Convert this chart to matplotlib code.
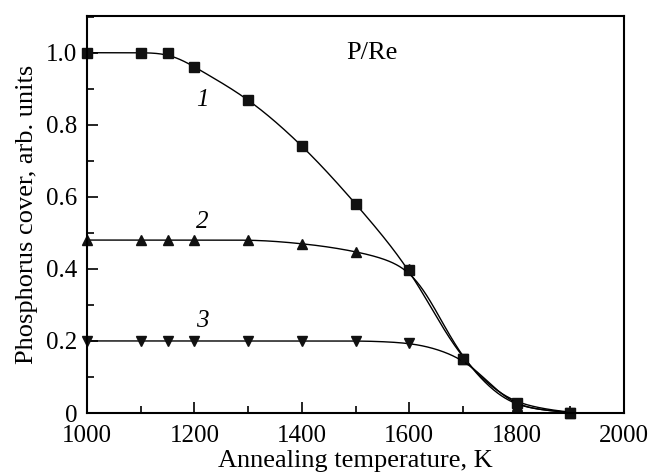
import numpy as np
import matplotlib
matplotlib.use("Agg")
import matplotlib.pyplot as plt
from matplotlib.ticker import MultipleLocator, FixedFormatter, FixedLocator

plt.rcParams['font.family'] = ['Liberation Serif', 'DejaVu Serif']

# annealing temperatures (K) and phosphorus cover for each curve
temp = [1000, 1100, 1150, 1200, 1300, 1400, 1500, 1600, 1700, 1800, 1900]
cover1 = [1.0, 1.0, 1.0, 0.96, 0.87, 0.742, 0.581, 0.397, 0.15, 0.028, 0.0]
cover2 = [0.48, 0.48, 0.48, 0.48, 0.48, 0.47, 0.448, 0.40, 0.15, 0.02, 0.0]
cover3 = [0.2, 0.2, 0.2, 0.2, 0.2, 0.2, 0.2, 0.194, 0.15, 0.02, 0.0]


def pchip(x, y, xn):
    # monotone cubic through the points
    x = np.asarray(x, float); y = np.asarray(y, float)
    h = np.diff(x); d = np.diff(y) / h
    m = np.zeros_like(y)
    for k in range(1, len(x) - 1):
        if d[k - 1] * d[k] > 0:
            w1 = 2 * h[k] + h[k - 1]; w2 = h[k] + 2 * h[k - 1]
            m[k] = (w1 + w2) / (w1 / d[k - 1] + w2 / d[k])
    m[0] = d[0]; m[-1] = d[-1]
    idx = np.clip(np.searchsorted(x, xn) - 1, 0, len(x) - 2)
    t = (xn - x[idx]) / h[idx]
    h00 = 2*t**3 - 3*t**2 + 1; h10 = t**3 - 2*t**2 + t
    h01 = -2*t**3 + 3*t**2; h11 = t**3 - t**2
    return h00*y[idx] + h10*h[idx]*m[idx] + h01*y[idx+1] + h11*h[idx]*m[idx+1]


def guide(x, y, sigma=28.0):
    # smoothed guide line for the eye (pchip + gaussian blur)
    xs = np.linspace(x[0], x[-1], 901)
    ys = pchip(x, y, xs)
    dx = xs[1] - xs[0]
    n = int(4 * sigma / dx)
    k = np.exp(-0.5 * (np.arange(-n, n + 1) * dx / sigma) ** 2)
    k /= k.sum()
    pad = np.concatenate([np.full(n, ys[0]), ys, np.full(n, ys[-1])])
    return xs, np.convolve(pad, k, mode='valid')


fig = plt.figure(figsize=(6.54, 4.75), dpi=100)
ax = fig.add_axes([87/654, 1 - 413/475, 537/654, (413 - 15.6)/475])

for ys, mk in [(cover1, 's'), (cover2, '^'), (cover3, 'v')]:
    gx, gy = guide(temp, ys)
    ax.plot(gx, gy, color='black', lw=1.0)
    ax.plot(temp, ys, linestyle='none', marker=mk, color='#111111', ms=6.5, clip_on=False)

ax.set_xlim(1000, 2000)
ax.set_ylim(0, 1.103)

ax.xaxis.set_major_locator(MultipleLocator(200))
ax.xaxis.set_minor_locator(MultipleLocator(100))
ax.yaxis.set_major_locator(FixedLocator([0, 0.2, 0.4, 0.6, 0.8, 1.0]))
ax.yaxis.set_major_formatter(FixedFormatter(['0', '0.2', '0.4', '0.6', '0.8', '1.0']))
ax.yaxis.set_minor_locator(MultipleLocator(0.1))
ax.tick_params(which='both', direction='in', top=False, right=False, labelsize=18, width=1.2)
ax.tick_params(which='major', length=8)
ax.tick_params(which='minor', length=5)
ax.tick_params(axis='x', pad=9)
ax.tick_params(axis='y', pad=7)
for s in ax.spines.values():
    s.set_linewidth(1.5)

ax.set_xlabel('Annealing temperature, K', fontsize=19, labelpad=2)
ax.set_ylabel('Phosphorus cover, arb. units', fontsize=19, labelpad=6)

ax.text(1530, 1.0, 'P/Re', fontsize=19, ha='center', va='center')
ax.text(1215, 0.87, '1', fontsize=18, style='italic', ha='center', va='center')
ax.text(1215, 0.53, '2', fontsize=18, style='italic', ha='center', va='center')
ax.text(1215, 0.255, '3', fontsize=18, style='italic', ha='center', va='center')

fig.savefig('out.png', dpi=100)
